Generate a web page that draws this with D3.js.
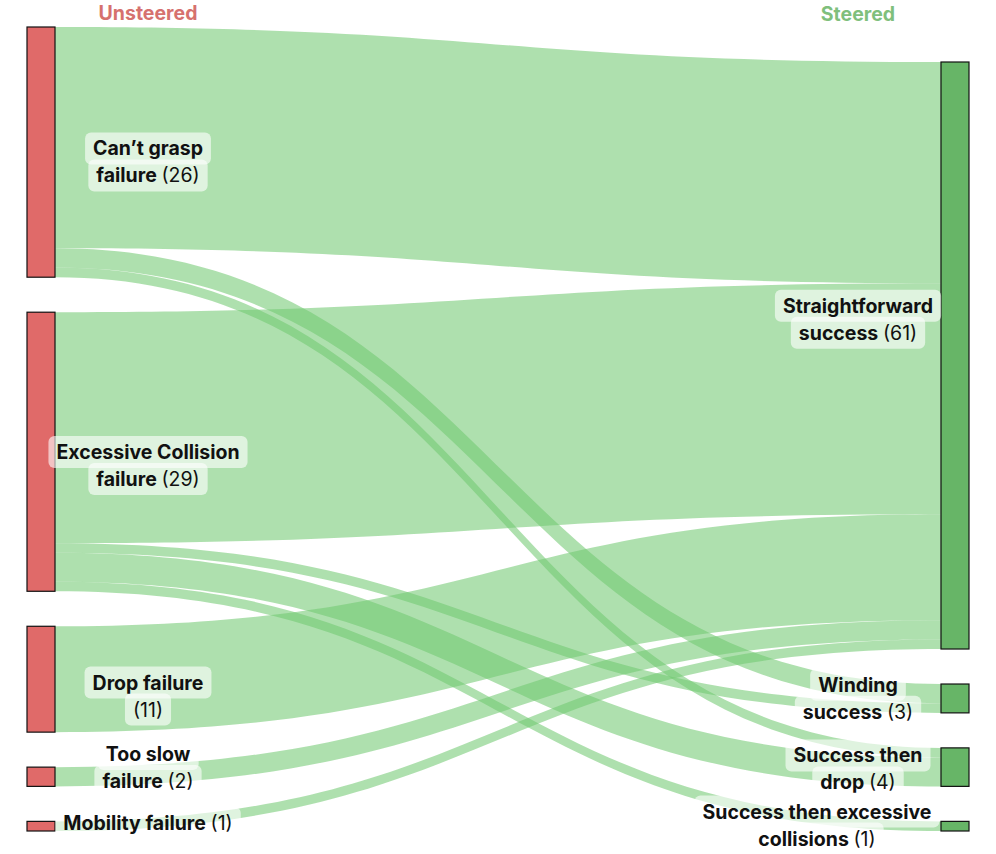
<!DOCTYPE html>
<html>
<head>
<meta charset="utf-8">
<script src="https://cdn.jsdelivr.net/npm/d3@7"></script>
<style>
  body { margin: 0; background: #fff; }
  text { font-family: Inter, "Noto Sans", sans-serif; }
</style>
</head>
<body>
<div id="chart"></div>
<script>
// ---- data ----
const unsteeredNodes = ["Can’t grasp failure", "Excessive Collision failure", "Drop failure", "Too slow failure", "Mobility failure"];
const steeredNodes = ["Straightforward success", "Winding success", "Success then drop", "Success then excessive collisions"];

// label lines, "#" marks where the count goes
const unsteeredLabels = [["Can’t grasp", "failure #"], ["Excessive Collision", "failure #"], ["Drop failure", "#"], ["Too slow", "failure #"], ["Mobility failure #"]];
const steeredLabels = [["Straightforward", "success #"], ["Winding", "success #"], ["Success then", "drop #"], ["Success then excessive", "collisions #"]];

const flowFrom = [0, 0, 0, 1, 1, 1, 1, 2, 3, 4];
const flowTo = [0, 1, 2, 0, 1, 2, 3, 0, 0, 0];
const flowValue = [23, 2, 1, 24, 1, 3, 1, 11, 2, 1];

// ---- layout ----
var width = 996, height = 854;
var yTop = 27, yBottom = 831, gap = 35, nodeWidth = 28;
var xLeft = 27, xRight = 941;
var fontSize = "19.5px";

var svg = d3.select("#chart").append("svg")
    .attr("width", width)
    .attr("height", height);

var leftVal = unsteeredNodes.map((d, i) => d3.sum(flowValue.filter((v, k) => flowFrom[k] === i)));
var rightVal = steeredNodes.map((d, i) => d3.sum(flowValue.filter((v, k) => flowTo[k] === i)));
var total = d3.sum(leftVal);

// value -> pixels, fitted to the taller (left) column
var ky = d3.scaleLinear()
    .domain([0, total])
    .range([0, (yBottom - yTop) - gap * (unsteeredNodes.length - 1)]);

function stack(vals, y0) {
    let y = y0;
    return vals.map(v => {
        let n = { y0: y, y1: y + ky(v), value: v };
        y = n.y1 + gap;
        return n;
    });
}
var leftCol = stack(leftVal, yTop);
// right column sits on the bottom
var rightH = d3.sum(rightVal, ky) + gap * (steeredNodes.length - 1);
var rightCol = stack(rightVal, yBottom - rightH);

// link ends, stacked in order of the other end
var links = flowValue.map((v, k) => ({ s: flowFrom[k], t: flowTo[k], value: v }));
leftCol.forEach((n, i) => {
    let y = n.y0;
    links.filter(l => l.s === i).sort((a, b) => a.t - b.t).forEach(l => { l.sy0 = y; y += ky(l.value); l.sy1 = y; });
});
rightCol.forEach((n, i) => {
    let y = n.y0;
    links.filter(l => l.t === i).sort((a, b) => a.s - b.s).forEach(l => { l.ty0 = y; y += ky(l.value); l.ty1 = y; });
});

var x0 = xLeft + nodeWidth, x1 = xRight, xm = (x0 + x1) / 2;
function band(l) {
    return "M" + x0 + "," + l.sy0 +
        "C" + xm + "," + l.sy0 + " " + xm + "," + l.ty0 + " " + x1 + "," + l.ty0 +
        "L" + x1 + "," + l.ty1 +
        "C" + xm + "," + l.ty1 + " " + xm + "," + l.sy1 + " " + x0 + "," + l.sy1 + "Z";
}

svg.append("g")
    .selectAll("path")
    .data(links)
    .join("path")
    .attr("d", band)
    .style("fill", "rgb(112,201,112)")
    .style("fill-opacity", 0.57);

// nodes
svg.append("g").selectAll("rect")
    .data(leftCol).join("rect")
    .attr("x", xLeft).attr("y", d => d.y0)
    .attr("width", nodeWidth).attr("height", d => d.y1 - d.y0)
    .style("fill", "#e06a69").style("stroke", "#111").style("stroke-width", 1.2);

svg.append("g").selectAll("rect")
    .data(rightCol).join("rect")
    .attr("x", xRight).attr("y", d => d.y0)
    .attr("width", nodeWidth).attr("height", d => d.y1 - d.y0)
    .style("fill", "#67b567").style("stroke", "#111").style("stroke-width", 1.2);

// column titles
svg.append("text").attr("x", 148).attr("y", 20).attr("text-anchor", "middle")
    .style("font-size", fontSize).style("font-weight", 700).style("fill", "#d6716e")
    .text("Unsteered");
svg.append("text").attr("x", 858).attr("y", 21).attr("text-anchor", "middle")
    .style("font-size", fontSize).style("font-weight", 700).style("fill", "#7fbf7c")
    .text("Steered");

// labels
var lineH = 27;
function drawLabel(lines, node, cx, shift) {
    var g = svg.append("g");
    var cy = (node.y0 + node.y1) / 2 + shift;
    lines.forEach((ln, i) => {
        var y = cy + (i - (lines.length - 1) / 2) * lineH;
        var t = g.append("text")
            .attr("x", cx)
            .attr("y", y)
            .attr("dy", "0.35em")
            .attr("text-anchor", "middle")
            .style("font-size", fontSize)
            .style("fill", "#111");
        var parts = ln.split("#");
        t.append("tspan").style("font-weight", 700).text(parts[0]);
        if (parts.length > 1) t.append("tspan").style("font-weight", 400).text("(" + node.value + ")");
        var b = t.node().getBBox();
        g.insert("rect", "text")
            .attr("x", b.x - 8).attr("y", b.y - 4)
            .attr("width", b.width + 16).attr("height", b.height + 8)
            .attr("rx", 6)
            .style("fill", "#fff").style("fill-opacity", 0.6);
    });
}

var leftShift = [10, 14, 17, -9, -3];
var rightShift = [-36, 0, 2, -1];
var rightCx = [858, 858, 858, 817];
leftCol.forEach((n, i) => drawLabel(unsteeredLabels[i], n, 148, leftShift[i]));
rightCol.forEach((n, i) => drawLabel(steeredLabels[i], n, rightCx[i], rightShift[i]));
</script>
</body>
</html>
